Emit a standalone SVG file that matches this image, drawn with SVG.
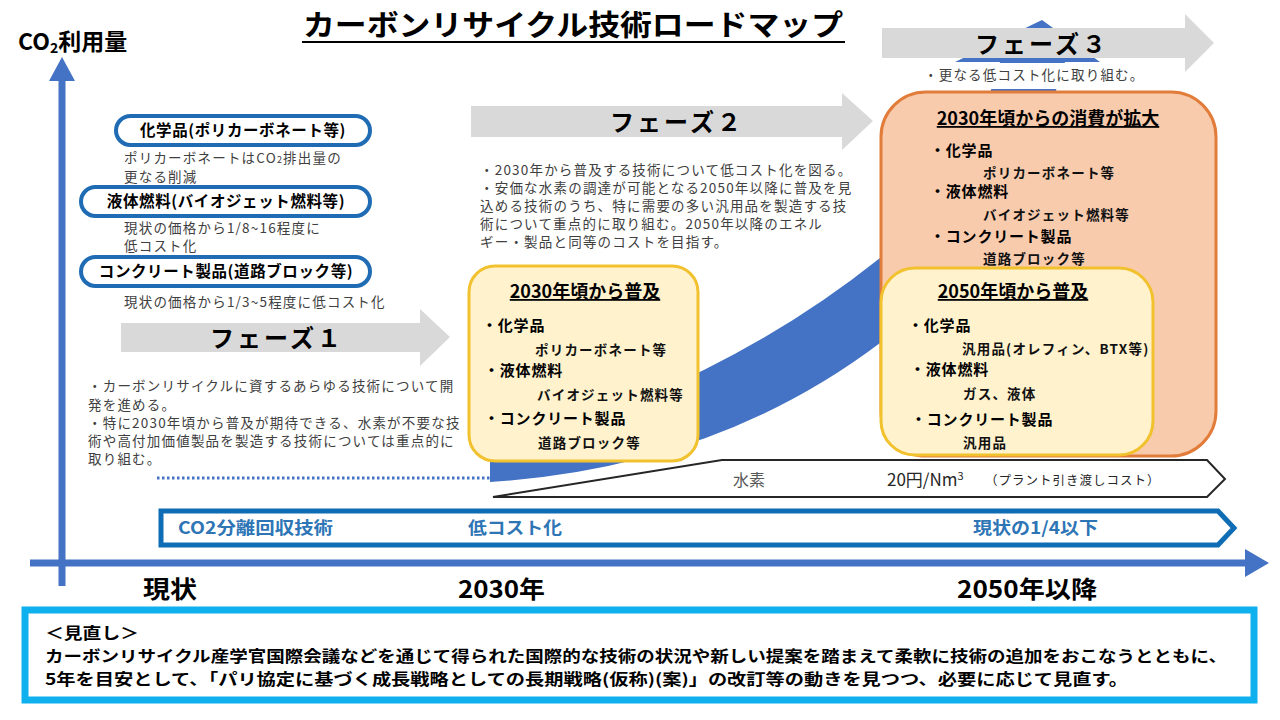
<svg xmlns="http://www.w3.org/2000/svg" width="1280" height="720" viewBox="0 0 1280 720">
<defs>
<style>
text{font-family:"Noto Sans CJK JP","Noto Sans",sans-serif;}
.b{font-weight:bold;fill:#000;}
.g{fill:#404040;font-size:13.5px;letter-spacing:1.2px;}
.pill{fill:#fff;stroke:#1f6cb4;stroke-width:4;}
.pilltxt{font-size:15.5px;font-weight:bold;fill:#000;text-anchor:middle;letter-spacing:0.6px;}
.phase{fill:#d9d9d9;}
.phtxt{font-size:24px;font-weight:bold;fill:#000;text-anchor:middle;letter-spacing:3px;}
.ybox{fill:#fff2cc;stroke:#f2c12e;stroke-width:3;}
.obox{fill:#f8cbad;stroke:#e27c3a;stroke-width:3;}
.bt{font-size:18px;font-weight:bold;fill:#000;text-anchor:middle;text-decoration:underline;}
.it{font-size:15px;font-weight:bold;fill:#000;letter-spacing:0.8px;}
.sub{font-size:13.5px;font-weight:bold;fill:#111;letter-spacing:1.2px;}
.ax{font-size:24px;font-weight:bold;fill:#000;}
.co2{font-size:17px;font-weight:bold;fill:#2e75b6;}
.rv{font-size:15.5px;font-weight:bold;fill:#000;}
</style>
</defs>

<g id="axes">
<line x1="62" y1="78" x2="62" y2="586" stroke="#4472c4" stroke-width="7"/>
<polygon points="62,57 49,81 75,81" fill="#4472c4"/>
<line x1="30" y1="563" x2="1248" y2="563" stroke="#4472c4" stroke-width="7"/>
<polygon points="1269,563 1245,549 1245,577" fill="#4472c4"/>
</g>

<g id="title">
<text x="573" y="36" font-size="29" class="b" text-anchor="middle" textLength="540" lengthAdjust="spacingAndGlyphs">カーボンリサイクル技術ロードマップ</text>
<line x1="302" y1="42" x2="845" y2="42" stroke="#000" stroke-width="2"/>
<text x="18" y="50" font-size="23" class="b">CO<tspan font-size="14" dy="3">2</tspan><tspan dy="-3">利用量</tspan></text>
</g>

<g id="connectors">
<line x1="157" y1="478" x2="492" y2="478" stroke="#4472c4" stroke-width="3" stroke-dasharray="2.5,2.5"/>
<path id="growth-curve" d="M490,482 Q715,467.5 880,343 Q1012,243 1065,62 L1100,62 L1042,20 L955,62 L1000,62 Q962,192 880,258 Q715,390 490,450 Z" fill="#4472c4"/>
</g>

<g id="pill-chem">
<rect x="116" y="116" width="254" height="29" rx="14.5" class="pill"/>
<text x="243" y="136" class="pilltxt">化学品(ポリカーボネート等)</text>
<text x="124" y="163" class="g">ポリカーボネートはCO<tspan font-size="9">2</tspan>排出量の</text>
<text x="124" y="182" class="g">更なる削減</text>
</g>
<g id="pill-fuel">
<rect x="81" y="187" width="289" height="29" rx="14.5" class="pill"/>
<text x="226" y="207" class="pilltxt">液体燃料(バイオジェット燃料等)</text>
<text x="124" y="233" class="g">現状の価格から1/8~16程度に</text>
<text x="124" y="251" class="g">低コスト化</text>
</g>
<g id="pill-concrete">
<rect x="81" y="257" width="289" height="29" rx="14.5" class="pill"/>
<text x="226" y="277" class="pilltxt">コンクリート製品(道路ブロック等)</text>
<text x="124" y="307" class="g">現状の価格から1/3~5程度に低コスト化</text>
</g>

<g id="phase1">
<polygon points="121,323 420,323 420,309 450,337 420,366 420,352 121,352" class="phase"/>
<text x="277" y="347" class="phtxt">フェーズ１</text>
<text x="88" y="391" class="g">・カーボンリサイクルに資するあらゆる技術について開</text>
<text x="88" y="410" class="g">発を進める。</text>
<text x="88" y="428" class="g">・特に2030年頃から普及が期待できる、水素が不要な技</text>
<text x="88" y="446" class="g">術や高付加価値製品を製造する技術については重点的に</text>
<text x="88" y="464" class="g">取り組む。</text>
</g>

<g id="phase2">
<polygon points="471,106 842,106 842,93 873,121 842,150 842,137 471,137" class="phase"/>
<text x="677" y="131" class="phtxt">フェーズ２</text>
<text x="480" y="175" class="g">・2030年から普及する技術について低コスト化を図る。</text>
<text x="480" y="193" class="g">・安価な水素の調達が可能となる2050年以降に普及を見</text>
<text x="480" y="211" class="g">込める技術のうち、特に需要の多い汎用品を製造する技</text>
<text x="480" y="229" class="g">術について重点的に取り組む。2050年以降のエネル</text>
<text x="480" y="247" class="g">ギー・製品と同等のコストを目指す。</text>
</g>

<g id="phase3">
<rect x="918" y="63" width="250" height="26" fill="#fff"/>
<polygon points="882,28 1185,28 1185,14 1214,43 1185,72 1185,58 882,58" class="phase"/>
<text x="1042" y="53" class="phtxt">フェーズ３</text>
<text x="924" y="80" class="g" font-size="12.5">・更なる低コスト化に取り組む。</text>
</g>

<g id="box-2030">
<rect x="469" y="266" width="229" height="195" rx="26" class="ybox"/>
<text x="585" y="298" class="bt">2030年頃から普及</text>
<text x="482" y="331" class="it">・化学品</text>
<text x="535" y="355" class="sub">ポリカーボネート等</text>
<text x="484" y="376" class="it">・液体燃料</text>
<text x="537" y="400" class="sub">バイオジェット燃料等</text>
<text x="484" y="424" class="it">・コンクリート製品</text>
<text x="538" y="448" class="sub">道路ブロック等</text>
</g>

<g id="box-consumption">
<rect x="881" y="92" width="335" height="364" rx="45" class="obox"/>
<text x="1048" y="125" class="bt">2030年頃からの消費が拡大</text>
<text x="930" y="156" class="it">・化学品</text>
<text x="983" y="178" class="sub">ポリカーボネート等</text>
<text x="930" y="197" class="it">・液体燃料</text>
<text x="983" y="220" class="sub">バイオジェット燃料等</text>
<text x="930" y="242" class="it">・コンクリート製品</text>
<text x="983" y="264" class="sub">道路ブロック等</text>
</g>

<g id="box-2050">
<rect x="881" y="268" width="272" height="187" rx="34" class="ybox"/>
<text x="1013" y="298" class="bt">2050年頃から普及</text>
<text x="908" y="331" class="it">・化学品</text>
<text x="962" y="354" class="sub">汎用品(オレフィン、BTX等)</text>
<text x="910" y="375" class="it">・液体燃料</text>
<text x="963" y="399" class="sub">ガス、液体</text>
<text x="911" y="425" class="it">・コンクリート製品</text>
<text x="963" y="448" class="sub">汎用品</text>
</g>

<g id="hydrogen">
<polygon points="493,497 722,460 1207,460 1225,479 1207,497" fill="#fff" stroke="#262626" stroke-width="2" stroke-linejoin="miter"/>
<text x="749" y="486" font-size="16" fill="#595959" text-anchor="middle">水素</text>
<text x="887" y="486" font-size="17" fill="#262626">20円/Nm<tspan font-size="11" dy="-6">3</tspan></text>
<text x="985" y="485" font-size="12.5" fill="#262626" letter-spacing="1">（プラント引き渡しコスト）</text>
</g>

<g id="co2-capture">
<polygon points="161,511 1218,511 1234,528 1218,545 161,545" fill="#fff" stroke="#0f6db5" stroke-width="5"/>
<text x="178" y="534" class="co2" textLength="155" lengthAdjust="spacingAndGlyphs">CO2分離回収技術</text>
<text x="468" y="534" class="co2" textLength="94" lengthAdjust="spacingAndGlyphs">低コスト化</text>
<text x="973" y="534" class="co2" textLength="125" lengthAdjust="spacingAndGlyphs">現状の1/4以下</text>
</g>

<g id="axis-labels">
<text x="143" y="598" class="ax" textLength="54" lengthAdjust="spacingAndGlyphs">現状</text>
<text x="458" y="598" class="ax" textLength="87" lengthAdjust="spacingAndGlyphs">2030年</text>
<text x="957" y="598" class="ax" textLength="140" lengthAdjust="spacingAndGlyphs">2050年以降</text>
</g>

<g id="review">
<rect x="25" y="610" width="1229" height="90" fill="#fff" stroke="#0fb0ee" stroke-width="7"/>
<text x="45" y="639" class="rv" textLength="94" lengthAdjust="spacingAndGlyphs">＜見直し＞</text>
<text x="45" y="662" class="rv" textLength="1182" lengthAdjust="spacingAndGlyphs">カーボンリサイクル産学官国際会議などを通じて得られた国際的な技術の状況や新しい提案を踏まえて柔軟に技術の追加をおこなうとともに、</text>
<text x="45" y="685" class="rv" textLength="1083" lengthAdjust="spacingAndGlyphs">5年を目安として、「パリ協定に基づく成長戦略としての長期戦略(仮称)(案)」の改訂等の動きを見つつ、必要に応じて見直す。</text>
</g>
</svg>
